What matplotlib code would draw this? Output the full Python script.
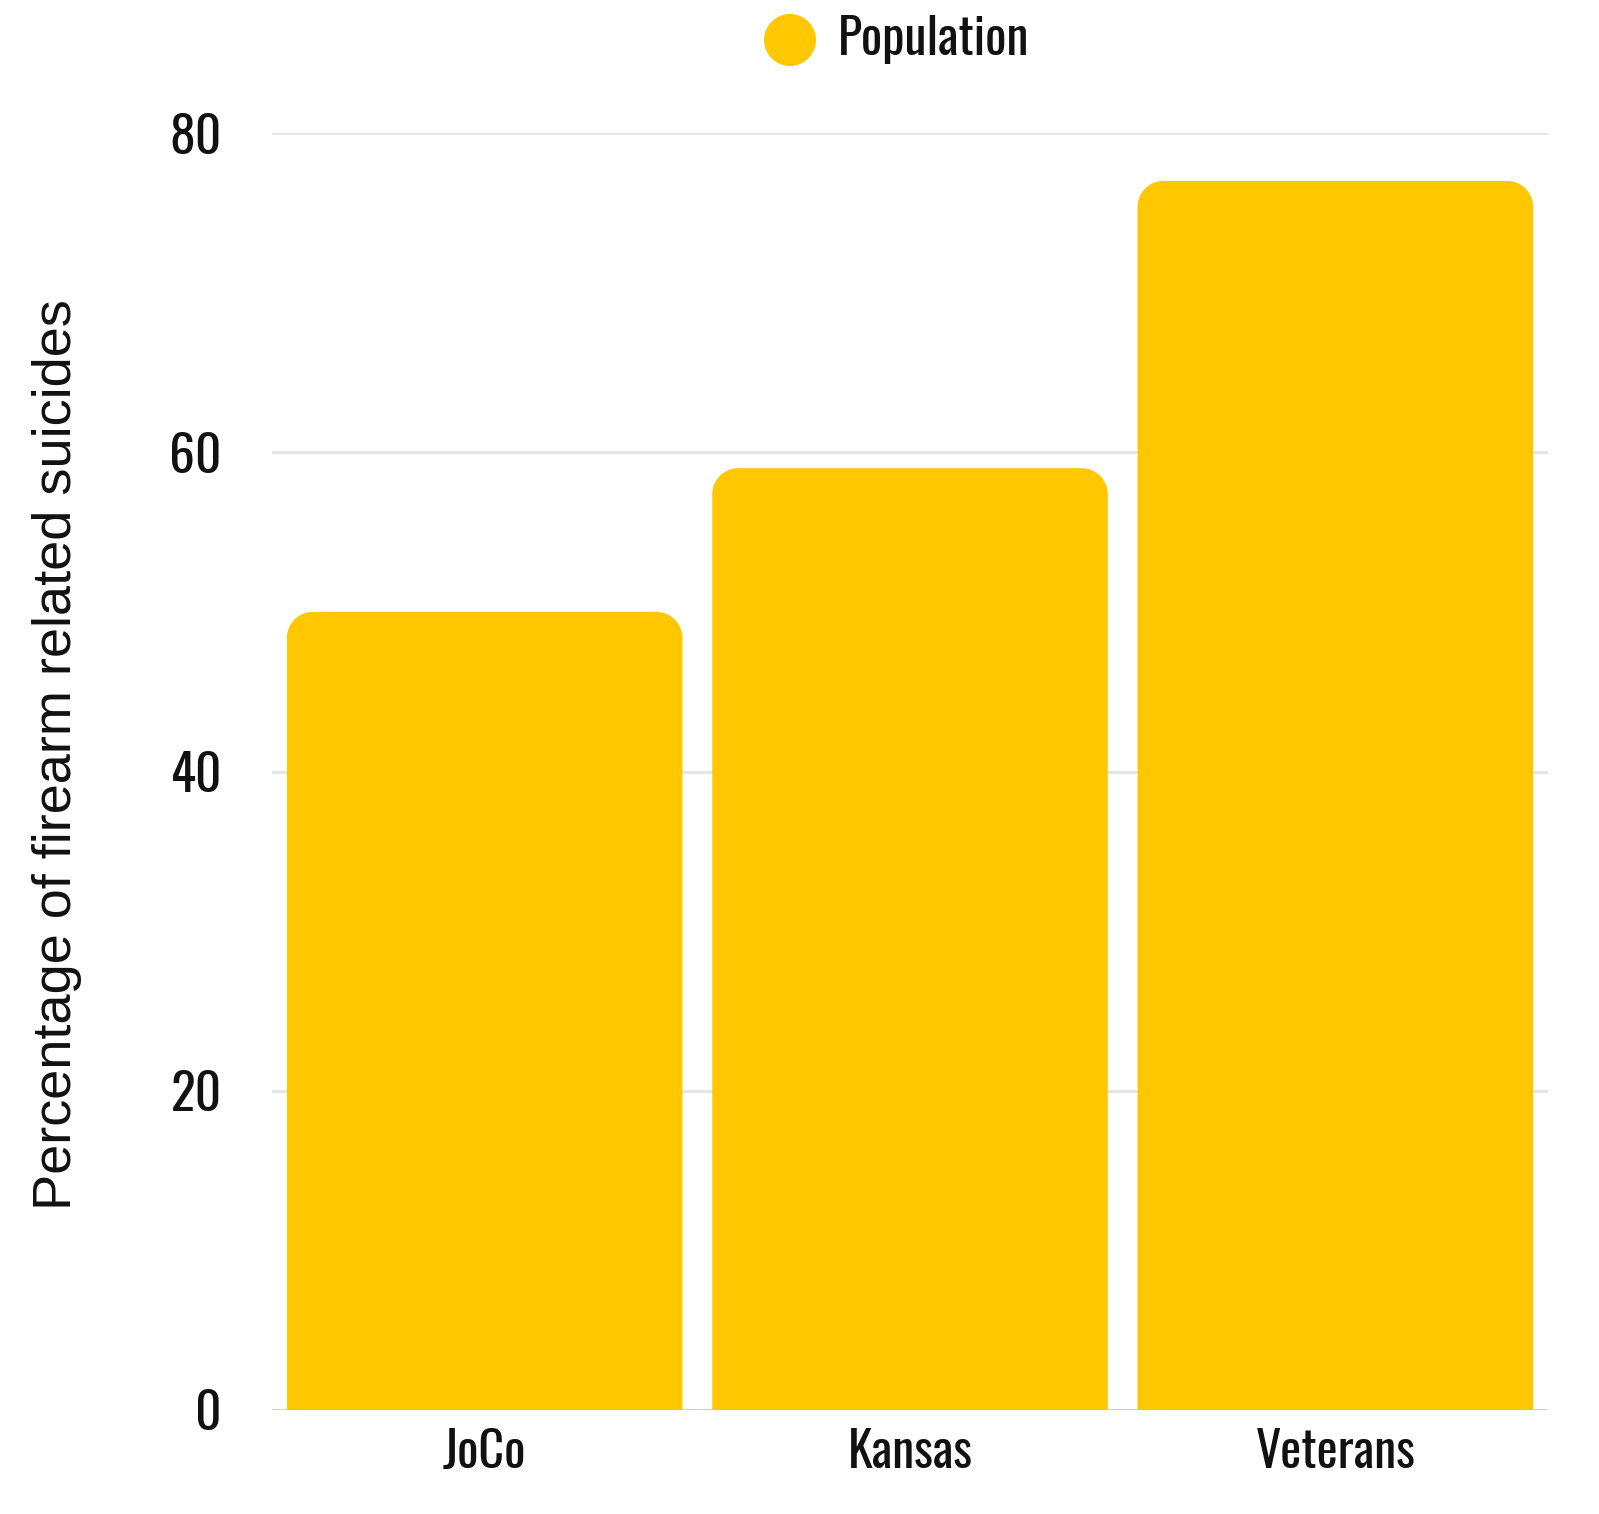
import matplotlib
matplotlib.use('Agg')
import matplotlib.pyplot as plt
from matplotlib.path import Path
from matplotlib.patches import PathPatch, Ellipse


# Chart data
categories = ['JoCo', 'Kansas', 'Veterans']
values = [50, 59, 77]
series_name = 'Population'
y_ticks = [0, 20, 40, 60, 80]

bar_color = '#FFC700'
narrow = ['Oswald', 'DejaVu Sans']

W, H, DPI = 1599, 1514, 100
fig = plt.figure(figsize=(W / DPI, H / DPI), dpi=DPI)
left, right, bottom, top = 272 / W, 1548 / W, 1410 / H, 133 / H
ax = fig.add_axes([left, 1 - bottom, right - left, bottom - top])

ax.set_xlim(-0.5, len(categories) - 0.5)
ax.set_ylim(0, 80)

# grid lines
for t in y_ticks[1:]:
    ax.axhline(t, color='#e3e3e3', lw=2, zorder=0)
ax.axhline(0, color='#cccccc', lw=2, zorder=0)

# bars with rounded top corners (radius given in pixels)
width = 0.93
rad_px = 26
x_per_px = len(categories) / (W * (right - left))
y_per_px = 80 / (H * (bottom - top))
rx, ry = rad_px * x_per_px, rad_px * y_per_px
k = 0.5523
for i, v in enumerate(values):
    x0, x1 = i - width / 2, i + width / 2
    verts = [(x0, 0), (x0, v - ry),
             (x0, v - ry + k * ry), (x0 + rx - k * rx, v), (x0 + rx, v),
             (x1 - rx, v),
             (x1 - rx + k * rx, v), (x1, v - ry + k * ry), (x1, v - ry),
             (x1, 0), (x0, 0)]
    codes = [Path.MOVETO, Path.LINETO,
             Path.CURVE4, Path.CURVE4, Path.CURVE4,
             Path.LINETO,
             Path.CURVE4, Path.CURVE4, Path.CURVE4,
             Path.LINETO, Path.CLOSEPOLY]
    ax.add_patch(PathPatch(Path(verts, codes), facecolor=bar_color,
                           edgecolor='none', zorder=2))

for s in ax.spines.values():
    s.set_visible(False)
ax.set_yticks(y_ticks)
ax.set_yticklabels([str(t) for t in y_ticks], family=narrow, fontsize=37,
                   color='#111111')
ax.set_xticks(range(len(categories)))
ax.set_xticklabels(categories, family=narrow, fontsize=36, color='#111111')
ax.tick_params(length=0)
ax.tick_params(axis='y', pad=36)
ax.tick_params(axis='x', pad=13)

fig.text(57 / W, 1 - 755 / H, 'Percentage of firearm related suicides',
         rotation=90, ha='center', va='center', fontsize=39,
         family=['Liberation Sans', 'DejaVu Sans'], color='#111111')

# legend
fig.patches.append(Ellipse((790 / W, 1 - 40 / H), 52 / W, 52 / H,
                           transform=fig.transFigure,
                           facecolor=bar_color, edgecolor='none'))
fig.text(838 / W, 1 - 40 / H, series_name, ha='left', va='center',
         fontsize=36, family=narrow, color='#111111')

fig.savefig('out.png', dpi=DPI, facecolor='white')
